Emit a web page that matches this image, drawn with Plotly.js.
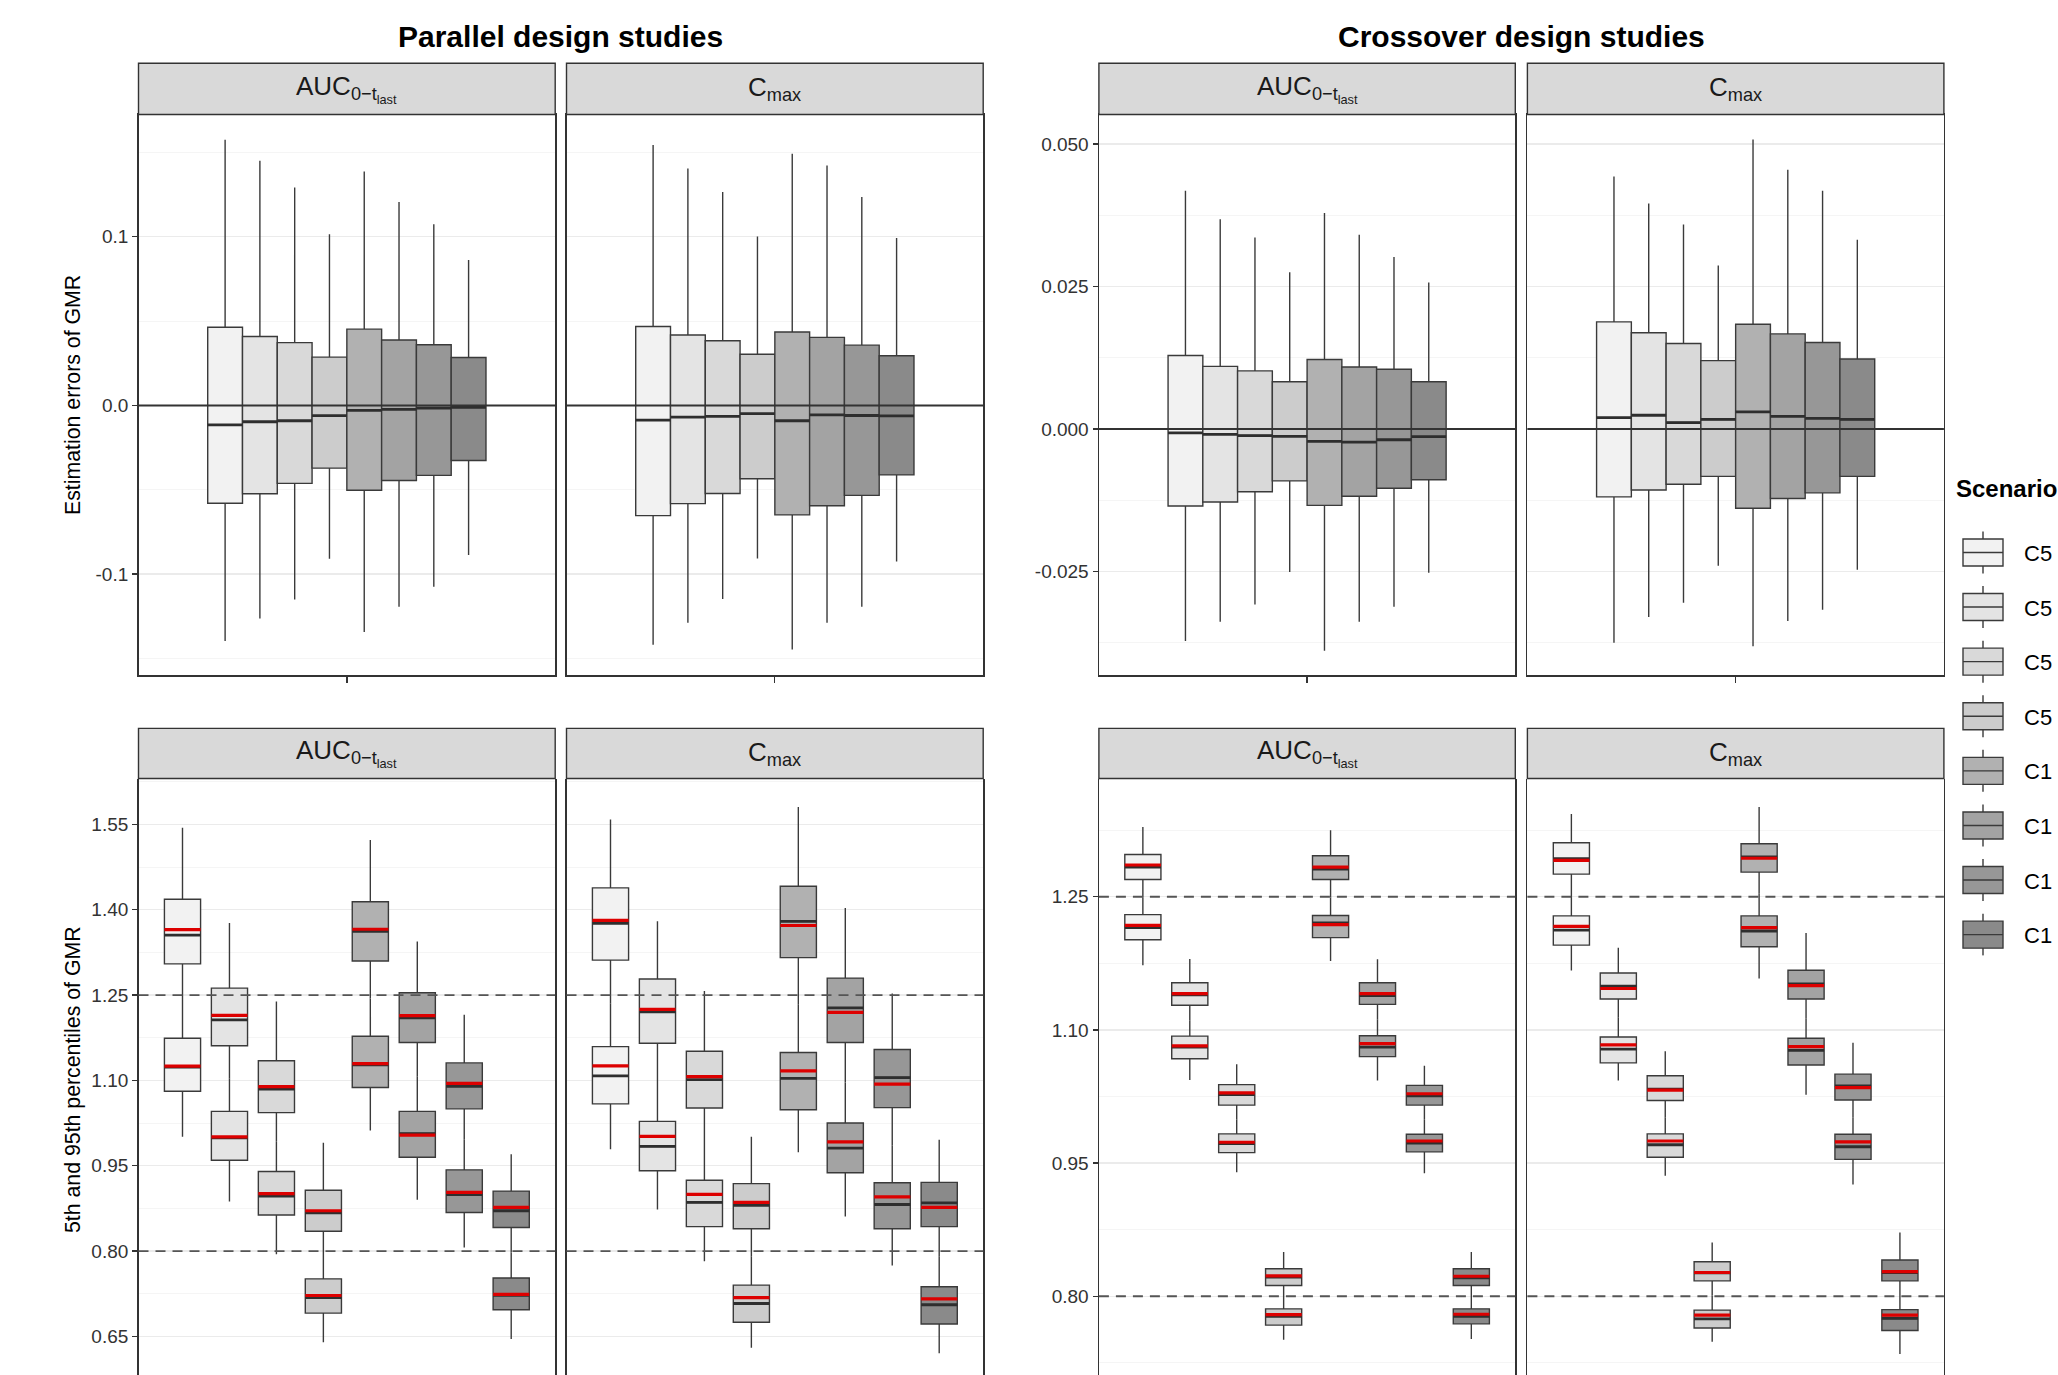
<!DOCTYPE html>
<html>
<head>
<meta charset="utf-8">
<script src="https://cdn.plot.ly/plotly-3.0.1.min.js"></script>
<style>
html, body { margin: 0; padding: 0; background: #ffffff; }
#chart { width: 2058px; height: 1375px; }
</style>
</head>
<body>
<div id="chart"></div>
<script>
// ---------------- DATA ----------------
const scenarios = ['C5 GMR 1.25', 'C5 GMR 1.10', 'C5 GMR 1.00', 'C5 GMR 0.80',
                   'C1 GMR 1.25', 'C1 GMR 1.10', 'C1 GMR 1.00', 'C1 GMR 0.80'];
const designTitles = ['Parallel design studies', 'Crossover design studies'];
const metricLabels = ['AUC<sub>0\u2212t<sub>last</sub></sub>', 'C<sub>max</sub>'];
const rowTitles = ['Estimation errors of GMR', '5th and 95th percentiles of GMR'];
const legendTitle = 'Scenario';

// Top row: estimation errors of GMR, per scenario [lower whisker, Q1, median, Q3, upper whisker]
const parAucErr = [
  [-0.1397, -0.0580, -0.0116, 0.0463, 0.1574],
  [-0.1263, -0.0524, -0.0097, 0.0408, 0.1450],
  [-0.1150, -0.0462, -0.0091, 0.0372, 0.1291],
  [-0.0909, -0.0372, -0.0061, 0.0286, 0.1014],
  [-0.1343, -0.0503, -0.0029, 0.0452, 0.1386],
  [-0.1193, -0.0445, -0.0023, 0.0388, 0.1205],
  [-0.1075, -0.0415, -0.0016, 0.0359, 0.1073],
  [-0.0887, -0.0327, -0.0011, 0.0284, 0.0862]
];
const parCmaxErr = [
  [-0.1418, -0.0653, -0.0087, 0.0468, 0.1543],
  [-0.1288, -0.0582, -0.0069, 0.0417, 0.1404],
  [-0.1148, -0.0522, -0.0065, 0.0383, 0.1264],
  [-0.0907, -0.0435, -0.0049, 0.0303, 0.1001],
  [-0.1447, -0.0649, -0.0091, 0.0435, 0.1491],
  [-0.1288, -0.0595, -0.0056, 0.0403, 0.1422],
  [-0.1193, -0.0533, -0.0060, 0.0357, 0.1235],
  [-0.0925, -0.0412, -0.0062, 0.0294, 0.0992]
];
const croAucErr = [
  [-0.0372, -0.0135, -0.00067, 0.0129, 0.0418],
  [-0.0338, -0.0128, -0.00094, 0.0110, 0.0368],
  [-0.0308, -0.0110, -0.00114, 0.0102, 0.0336],
  [-0.0251, -0.0091, -0.00128, 0.0083, 0.0275],
  [-0.0389, -0.0134, -0.00215, 0.0122, 0.0379],
  [-0.0338, -0.0118, -0.00228, 0.0109, 0.0341],
  [-0.0312, -0.0104, -0.00188, 0.0105, 0.0302],
  [-0.0252, -0.0089, -0.00134, 0.0083, 0.0257]
];
const croCmaxErr = [
  [-0.0375, -0.0119, 0.00201, 0.0188, 0.0443],
  [-0.0330, -0.0107, 0.00242, 0.0169, 0.0396],
  [-0.0305, -0.0097, 0.00114, 0.0150, 0.0359],
  [-0.0240, -0.0083, 0.00168, 0.0120, 0.0287],
  [-0.0381, -0.0139, 0.00302, 0.0184, 0.0508],
  [-0.0337, -0.0122, 0.00222, 0.0167, 0.0455],
  [-0.0317, -0.0112, 0.00188, 0.0152, 0.0418],
  [-0.0247, -0.0083, 0.00168, 0.0123, 0.0332]
];

// Bottom row: 95th and 5th percentiles of GMR,
// per scenario [lower whisker, Q1, median, Q3, upper whisker, red reference line]
const parAucP95 = [
  [1.2395, 1.3048, 1.3555, 1.4186, 1.5441, 1.3650],
  [1.1037, 1.1609, 1.2064, 1.2622, 1.3768, 1.2145],
  [0.9921, 1.0435, 1.0846, 1.1345, 1.2387, 1.0890],
  [0.7931, 0.8350, 0.8673, 0.9069, 0.9906, 0.8710],
  [1.2439, 1.3100, 1.3621, 1.4142, 1.5228, 1.3657],
  [1.1066, 1.1668, 1.2101, 1.2542, 1.3444, 1.2138],
  [0.9965, 1.0501, 1.0897, 1.1308, 1.2153, 1.0949],
  [0.7976, 0.8416, 0.8710, 0.9055, 0.9701, 0.8768]
];
const parAucP5 = [
  [1.0009, 1.0809, 1.1235, 1.1741, 1.2395, 1.1250],
  [0.8871, 0.9598, 0.9990, 1.0457, 1.1037, 1.0009],
  [0.7946, 0.8636, 0.8967, 0.9400, 0.9921, 0.9011],
  [0.6397, 0.6911, 0.7183, 0.7513, 0.7931, 0.7220],
  [1.0119, 1.0875, 1.1272, 1.1778, 1.2439, 1.1294],
  [0.8903, 0.9649, 1.0067, 1.0457, 1.1066, 1.0038],
  [0.8064, 0.8680, 0.8995, 0.9429, 0.9965, 0.9033],
  [0.6456, 0.6970, 0.7225, 0.7528, 0.7976, 0.7241]
];
const parCmaxP95 = [
  [1.2358, 1.3114, 1.3760, 1.4384, 1.5588, 1.3812],
  [1.0971, 1.1653, 1.2204, 1.2784, 1.3797, 1.2248],
  [0.9884, 1.0515, 1.1015, 1.1514, 1.2571, 1.1066],
  [0.7902, 0.8394, 0.8805, 0.9187, 1.0009, 0.8856],
  [1.2329, 1.3158, 1.3797, 1.4414, 1.5808, 1.3723],
  [1.0963, 1.1668, 1.2277, 1.2799, 1.4032, 1.2197],
  [0.9862, 1.0523, 1.1051, 1.1543, 1.2527, 1.0934],
  [0.7902, 0.8431, 0.8849, 0.9209, 0.9958, 0.8768]
];
const parCmaxP5 = [
  [0.9789, 1.0589, 1.1081, 1.1595, 1.2358, 1.1257],
  [0.8732, 0.9414, 0.9840, 1.0281, 1.0971, 1.0016],
  [0.7821, 0.8431, 0.8856, 0.9246, 0.9884, 0.8996],
  [0.6302, 0.6750, 0.7080, 0.7403, 0.7902, 0.7183],
  [0.9737, 1.0486, 1.1037, 1.1492, 1.2329, 1.1169],
  [0.8607, 0.9378, 0.9811, 1.0251, 1.0963, 0.9921],
  [0.7748, 0.8394, 0.8820, 0.9202, 0.9862, 0.8952],
  [0.6206, 0.6720, 0.7058, 0.7374, 0.7902, 0.7161]
];
const croAucP95 = [
  [1.2495, 1.2693, 1.2834, 1.2975, 1.3285, 1.2857],
  [1.1104, 1.1277, 1.1395, 1.1531, 1.1799, 1.1409],
  [0.9994, 1.0153, 1.0271, 1.0384, 1.0614, 1.0290],
  [0.7991, 0.8122, 0.8216, 0.8310, 0.8499, 0.8231],
  [1.2491, 1.2693, 1.2810, 1.2961, 1.3248, 1.2834],
  [1.1113, 1.1287, 1.1386, 1.1531, 1.1795, 1.1409],
  [0.9989, 1.0153, 1.0257, 1.0375, 1.0596, 1.0281],
  [0.7991, 0.8122, 0.8207, 0.8310, 0.8499, 0.8226]
];
const croAucP5 = [
  [1.1729, 1.2016, 1.2152, 1.2298, 1.2495, 1.2176],
  [1.0436, 1.0676, 1.0807, 1.0930, 1.1104, 1.0821],
  [0.9397, 0.9618, 0.9721, 0.9829, 0.9994, 0.9735],
  [0.7511, 0.7676, 0.7774, 0.7859, 0.7991, 0.7793],
  [1.1776, 1.2039, 1.2204, 1.2288, 1.2491, 1.2185],
  [1.0431, 1.0699, 1.0807, 1.0934, 1.1113, 1.0845],
  [0.9387, 0.9627, 0.9726, 0.9825, 0.9989, 0.9749],
  [0.7520, 0.7690, 0.7774, 0.7859, 0.7991, 0.7798]
];
const croCmaxP95 = [
  [1.2519, 1.2754, 1.2928, 1.3107, 1.3431, 1.2909],
  [1.1136, 1.1348, 1.1494, 1.1640, 1.1926, 1.1466],
  [1.0017, 1.0205, 1.0332, 1.0483, 1.0760, 1.0323],
  [0.8010, 0.8174, 0.8263, 0.8390, 0.8607, 0.8268],
  [1.2533, 1.2777, 1.2947, 1.3097, 1.3511, 1.2933],
  [1.1127, 1.1348, 1.1517, 1.1672, 1.2091, 1.1498],
  [1.0017, 1.0210, 1.0370, 1.0502, 1.0854, 1.0351],
  [0.8014, 0.8174, 0.8268, 0.8409, 0.8720, 0.8278]
];
const croCmaxP5 = [
  [1.1668, 1.1955, 1.2124, 1.2284, 1.2519, 1.2166],
  [1.0431, 1.0629, 1.0784, 1.0920, 1.1136, 1.0831],
  [0.9359, 0.9566, 0.9707, 0.9829, 1.0017, 0.9749],
  [0.7488, 0.7643, 0.7746, 0.7845, 0.8010, 0.7789],
  [1.1578, 1.1936, 1.2114, 1.2284, 1.2533, 1.2152],
  [1.0271, 1.0605, 1.0770, 1.0906, 1.1127, 1.0812],
  [0.9260, 0.9542, 0.9684, 0.9825, 1.0017, 0.9740],
  [0.7351, 0.7615, 0.7751, 0.7850, 0.8014, 0.7789]
];

const beLimits = [0.80, 1.25];
const errRef = [0];

// Tick labels
const parErrTickVals = [-0.1, 0.0, 0.1];
const parErrTickText = ['-0.1', '0.0', '0.1'];
const parErrMinor = [-0.15, -0.05, 0.05, 0.15];
const croErrTickVals = [-0.025, 0.0, 0.025, 0.05];
const croErrTickText = ['-0.025', '0.000', '0.025', '0.050'];
const croErrMinor = [-0.0375, -0.0125, 0.0125, 0.0375];
const parPctTickVals = [0.65, 0.80, 0.95, 1.10, 1.25, 1.40, 1.55];
const parPctTickText = ['0.65', '0.80', '0.95', '1.10', '1.25', '1.40', '1.55'];
const parPctMinor = [0.725, 0.875, 1.025, 1.175, 1.325, 1.475, 1.625];
const croPctTickVals = [0.80, 0.95, 1.10, 1.25];
const croPctTickText = ['0.80', '0.95', '1.10', '1.25'];
const croPctMinor = [0.725, 0.875, 1.025, 1.175, 1.325];

// ---------------- STYLE / GEOMETRY ----------------
const W = 2058, H = 1375;
const FONT = 'Liberation Sans, Arial, Helvetica, sans-serif';
const fills = ['#F2F2F2', '#E4E4E4', '#D9D9D9', '#CCCCCC', '#B1B1B1', '#A3A3A3', '#979797', '#8A8A8A'];
const boxLine = '#3A3A3A';
const colPx = [[138.5, 555.2], [566.5, 983.2], [1098.9, 1515.3], [1527.4, 1943.9]];
const rowPx = [[114.5, 675.2], [778.5, 1375]];
const stripPx = [[63.3, 114.5], [728.4, 778.5]];
const nS = scenarios.length;
const centerPos = (nS - 1) / 2;
const xRangeTop = [centerPos - 5.99, centerPos + 5.99];
const xRangeBot = [centerPos - 4.437, centerPos + 4.437];
const yRanges = [[-0.1599, 0.1724], [-0.1599, 0.1724], [-0.0432, 0.0552], [-0.0432, 0.0552],
                 [0.5823, 1.6307], [0.5823, 1.6307], [0.7114, 1.3831], [0.7114, 1.3831]];
const yTickSets = [
  [parErrTickVals, parErrTickText, parErrMinor], [parErrTickVals, parErrTickText, parErrMinor],
  [croErrTickVals, croErrTickText, croErrMinor], [croErrTickVals, croErrTickText, croErrMinor],
  [parPctTickVals, parPctTickText, parPctMinor], [parPctTickVals, parPctTickText, parPctMinor],
  [croPctTickVals, croPctTickText, croPctMinor], [croPctTickVals, croPctTickText, croPctMinor]
];

const errData = [parAucErr, parCmaxErr, croAucErr, croCmaxErr];
const pctData = [[parAucP95, parAucP5], [parCmaxP95, parCmaxP5], [croAucP95, croAucP5], [croCmaxP95, croCmaxP5]];

const axName = (k) => (k === 1 ? '' : String(k));
const px2x = (px) => px / W;
const px2y = (py) => 1 - py / H;

// ---------------- TRACES ----------------
const boxTraces = [], medTraces = [], redTraces = [];

function baseBox(k) {
  return {
    type: 'box', orientation: 'v', xaxis: 'x' + axName(k), yaxis: 'y' + axName(k),
    whiskerwidth: 0, boxpoints: false, hoverinfo: 'skip'
  };
}

for (let r = 0; r < 2; r++) {
  for (let p = 0; p < 4; p++) {
    const k = r * 4 + p + 1;
    const bw = r === 0 ? 1 : 0.77;
    // top row: one box per scenario; bottom row: two (95th and 5th percentile)
    const sets = r === 0 ? [errData[p]] : pctData[p];
    scenarios.forEach((s, i) => {
      boxTraces.push(Object.assign(baseBox(k), {
        name: s, legendgroup: s, showlegend: (k === 1),
        x: sets.map(() => i),
        lowerfence: sets.map(d => d[i][0]),
        q1: sets.map(d => d[i][1]),
        median: sets.map(d => d[i][2]),
        q3: sets.map(d => d[i][3]),
        upperfence: sets.map(d => d[i][4]),
        width: bw, fillcolor: fills[i],
        line: { color: boxLine, width: 1.4 }
      }));
    });
    // thick median bars and red reference bars
    const xs = [], meds = [], reds = [];
    sets.forEach(d => d.forEach((row, i) => { xs.push(i); meds.push(row[2]); if (row.length > 5) reds.push(row[5]); }));
    medTraces.push(Object.assign(baseBox(k), {
      name: 'median', showlegend: false, x: xs,
      lowerfence: meds, q1: meds, median: meds, q3: meds, upperfence: meds,
      width: bw, fillcolor: 'rgba(0,0,0,0)', line: { color: '#2E2E2E', width: 2.8 }
    }));
    if (r === 1) {
      redTraces.push(Object.assign(baseBox(k), {
        name: 'reference', showlegend: false, x: xs,
        lowerfence: reds, q1: reds, median: reds, q3: reds, upperfence: reds,
        width: bw, fillcolor: 'rgba(0,0,0,0)', line: { color: '#DD0000', width: 3.2 }
      }));
    }
  }
}
const traces = boxTraces.concat(medTraces, redTraces);

// ---------------- LAYOUT ----------------
const layout = {
  width: W, height: H,
  margin: { l: 0, r: 0, t: 0, b: 0, autoexpand: false },
  paper_bgcolor: '#ffffff', plot_bgcolor: '#ffffff',
  boxmode: 'overlay',
  font: { family: FONT, color: '#000000', size: 19 },
  showlegend: true,
  legend: {
    x: px2x(1942), y: px2y(462.5), xref: 'paper', yref: 'paper',
    xanchor: 'left', yanchor: 'top',
    font: { size: 22, color: '#000000', family: FONT },
    title: {
      text: '<span style="font-size:24px"><b>\u2002' + legendTitle + '</b></span><br>\u00A0',
      font: { size: 26.6, family: FONT, color: '#000000' }
    },
    itemwidth: 72, tracegroupgap: 23, traceorder: 'grouped',
    bgcolor: 'rgba(0,0,0,0)', borderwidth: 0
  },
  shapes: [], annotations: []
};

for (let r = 0; r < 2; r++) {
  for (let p = 0; p < 4; p++) {
    const k = r * 4 + p + 1;
    const leftPanel = (p % 2 === 0);
    const ts = yTickSets[k - 1];
    layout['xaxis' + axName(k)] = {
      domain: [px2x(colPx[p][0]), px2x(colPx[p][1])],
      range: r === 0 ? xRangeTop : xRangeBot,
      anchor: 'y' + axName(k),
      tickmode: 'array', tickvals: [centerPos], showticklabels: false,
      ticks: r === 0 ? 'outside' : '', ticklen: 6, tickwidth: 1.3, tickcolor: '#333333',
      showgrid: false, zeroline: false,
      showline: r === 0, mirror: true, linecolor: '#333333', linewidth: 1.4,
      fixedrange: true
    };
    layout['yaxis' + axName(k)] = {
      domain: [px2y(rowPx[r][1]), px2y(rowPx[r][0])],
      range: yRanges[k - 1],
      anchor: 'x' + axName(k),
      tickmode: 'array', tickvals: ts[0], ticktext: ts[1],
      showticklabels: leftPanel, ticks: leftPanel ? 'outside' : '',
      ticklen: 5, tickwidth: 1.3, tickcolor: '#333333',
      tickfont: { size: 19, color: '#333333', family: FONT },
      showgrid: true, gridcolor: '#EBEBEB', gridwidth: 1.3,
      minor: { tickmode: 'array', tickvals: ts[2], showgrid: true, gridcolor: '#F5F5F5', gridwidth: 1, ticks: '' },
      zeroline: false,
      showline: true, mirror: true, linecolor: '#333333', linewidth: 1.4,
      fixedrange: true
    };
    // facet strip
    layout.shapes.push({
      type: 'rect', xref: 'paper', yref: 'paper',
      x0: px2x(colPx[p][0]), x1: px2x(colPx[p][1]),
      y0: px2y(stripPx[r][1]), y1: px2y(stripPx[r][0]),
      fillcolor: '#D9D9D9', line: { color: '#333333', width: 1.4 }, layer: 'above'
    });
    layout.annotations.push({
      xref: 'paper', yref: 'paper', showarrow: false,
      x: px2x((colPx[p][0] + colPx[p][1]) / 2), y: px2y((stripPx[r][0] + stripPx[r][1]) / 2),
      xanchor: 'center', yanchor: 'middle',
      text: metricLabels[p % 2],
      font: { size: 26, color: '#1A1A1A', family: FONT }
    });
    // reference lines
    const refs = r === 0 ? errRef : beLimits;
    refs.forEach(v => layout.shapes.push({
      type: 'line', xref: 'x' + axName(k) + ' domain', yref: 'y' + axName(k),
      x0: 0, x1: 1, y0: v, y1: v,
      line: r === 0 ? { color: '#333333', width: 2 } : { color: '#555555', width: 1.9, dash: '10px,7px' },
      layer: 'above'
    }));
  }
}

// design titles
designTitles.forEach((t, d) => {
  layout.annotations.push({
    xref: 'paper', yref: 'paper', showarrow: false,
    x: px2x((colPx[2 * d][0] + colPx[2 * d + 1][1]) / 2), y: px2y(37),
    xanchor: 'center', yanchor: 'middle',
    text: '<b>' + t + '</b>', font: { size: 30, color: '#000000', family: FONT }
  });
});
// row titles (y axis titles of the parallel design panels)
rowTitles.forEach((t, r) => {
  layout.annotations.push({
    xref: 'paper', yref: 'paper', showarrow: false,
    x: px2x(73), y: px2y(r === 0 ? 395 : 1080),
    xanchor: 'center', yanchor: 'middle', textangle: -90,
    text: t, font: { size: 21.3, color: '#000000', family: FONT }
  });
});

Plotly.newPlot('chart', traces, layout, { staticPlot: true, displayModeBar: false }).then(gd => {
  // ggplot-like legend keys: box with median line and whiskers
  gd.querySelectorAll('.legend .legendpoints path.legendbox').forEach(pth => {
    pth.setAttribute('d', 'M20,13.5H-20V-13.5H20Z M-20,0H20 M0,-13.5V-21 M0,13.5V21');
  });
});
</script>
</body>
</html>
